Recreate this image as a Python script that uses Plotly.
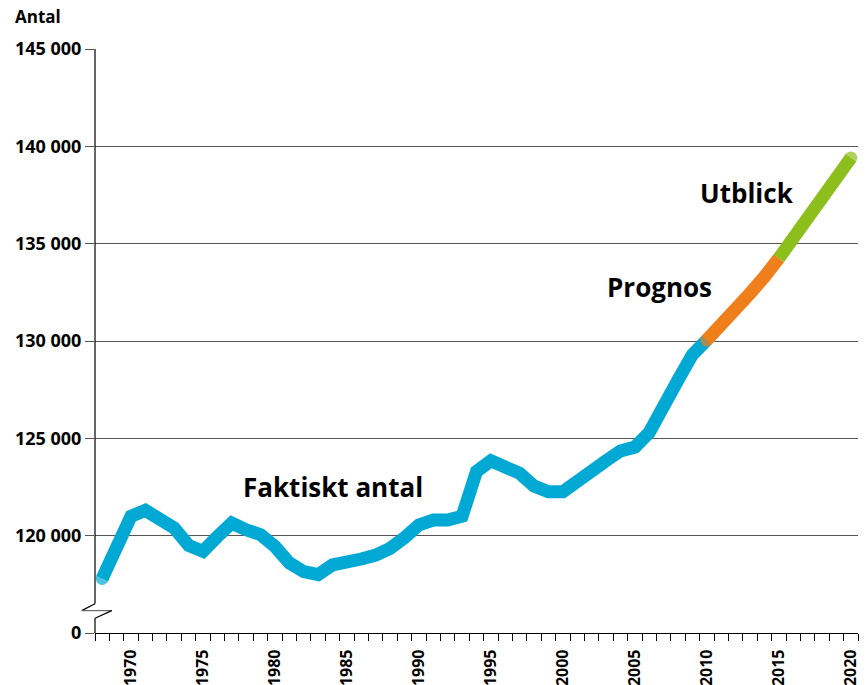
import plotly.graph_objects as go

# antal per år
faktiskt_ar = list(range(1968, 2011))
faktiskt_antal = [
    117800, 119300, 121000, 121300, 120800, 120400, 119500, 119200, 119950, 120650,
    120300, 120050, 119450, 118600, 118150, 118000, 118500, 118600, 118800, 119000,
    119350, 119900, 120550, 120800, 120800, 121000, 123300, 123850, 123600, 123200,
    122550, 122250, 122250, 122850, 123250, 123850, 124350, 124550, 125300, 126500,
    128000, 129300, 130050,
]
prognos_ar = list(range(2010, 2016))
prognos_antal = [130050, 130800, 131600, 132450, 133300, 134250]
utblick_ar = list(range(2015, 2021))
utblick_antal = [134250, 135300, 136300, 137330, 138360, 139400]

y_ticks = [115000, 120000, 125000, 130000, 135000, 140000, 145000]
y_labels = ["0", "120 000", "125 000", "130 000", "135 000", "140 000", "145 000"]
x_ticks = list(range(1970, 2021, 5))

BLUE = "#00A9D4"
ORANGE = "#EE7F1A"
GREEN = "#8CBE1C"
FONT = "Open Sans"
LW = 13


def serie(x, y, color, caps):
    # runda ändar: markör i början och/eller slutet
    sizes = [0] * len(x)
    if "start" in caps:
        sizes[0] = LW
    if "end" in caps:
        sizes[-1] = LW
    return go.Scatter(
        x=x, y=y, mode="lines+markers", line=dict(color=color, width=LW),
        marker=dict(color=color, size=sizes, line=dict(width=0)),
        hoverinfo="skip", showlegend=False,
    )


fig = go.Figure()
fig.add_trace(serie(faktiskt_ar, faktiskt_antal, BLUE, ["start"]))
fig.add_trace(serie(prognos_ar, prognos_antal, ORANGE, ["start"]))
fig.add_trace(serie(utblick_ar, utblick_antal, GREEN, ["end"]))

for txt, x, y in [("Faktiskt antal", 1984.0, 122500), ("Prognos", 2006.7, 132750),
                  ("Utblick", 2012.8, 137600)]:
    fig.add_annotation(x=x, y=y, text=txt, showarrow=False,
                       font=dict(family=FONT, size=26, color="black", weight=700))

fig.add_annotation(x=-0.1075, y=1.055, xref="paper", yref="paper", text="Antal",
                   showarrow=False, xanchor="left", yanchor="middle",
                   font=dict(family=FONT, size=17, color="black", weight=700))

# y-axel med brytsymbol
axis_line = dict(color="black", width=1.2)
fig.add_shape(type="line", xref="paper", yref="y", x0=0, x1=0, y0=116500, y1=145000, line=axis_line)
fig.add_shape(type="line", xref="paper", yref="y", x0=0, x1=0, y0=115000, y1=115760, line=axis_line)
fig.add_shape(type="line", xref="paper", yref="y", x0=0, x1=-0.0174, y0=116500, y1=116150, line=axis_line)
fig.add_shape(type="line", xref="paper", yref="y", x0=-0.0174, x1=0.0219, y0=116150, y1=116150,
              line=dict(color="#666666", width=1.2))
fig.add_shape(type="line", xref="paper", yref="y", x0=0.0219, x1=0, y0=116150, y1=115760, line=axis_line)

# sidan har 8 px marginal, därför 859x677
fig.update_layout(
    width=859, height=677,
    margin=dict(l=87, r=9, t=41, b=52),
    paper_bgcolor="white", plot_bgcolor="white",
    font=dict(family=FONT, color="black"),
)
fig.update_xaxes(
    range=[1967.5, 2020.5], automargin=False,
    tickvals=x_ticks, ticktext=[str(v) for v in x_ticks],
    tickangle=-90, ticks="", ticklabelstandoff=9,
    tickfont=dict(family=FONT, size=16, color="black", weight=700),
    minor=dict(ticks="outside", tick0=1967.5, dtick=1, ticklen=7, tickcolor="black", tickwidth=1),
    showgrid=False, zeroline=False,
    showline=True, linecolor="black", linewidth=1.2,
)
fig.update_yaxes(
    range=[115000, 145000], automargin=False,
    tickvals=y_ticks, ticktext=y_labels,
    ticks="outside", ticklen=9, tickcolor="#555555", tickwidth=1,
    tickfont=dict(family=FONT, size=18, color="black", weight=700),
    showgrid=True, gridcolor="#555555", gridwidth=1,
    zeroline=False, showline=False,
)

fig.write_html("out.html")
